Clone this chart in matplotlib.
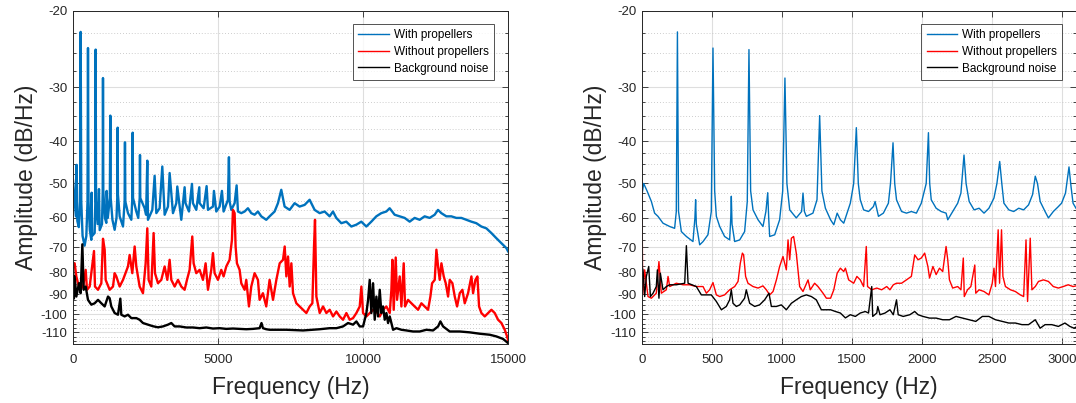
import numpy as np
import matplotlib
matplotlib.use("Agg")
import matplotlib.pyplot as plt
from matplotlib.ticker import FixedLocator, FixedFormatter

plt.rcParams['font.family'] = ['Liberation Sans', 'DejaVu Sans']

# ---- data: (frequency Hz, amplitude dB/Hz) ----
# left panel, 0-15000 Hz
left_with = [
    (0, -49.1), (30, -52), (60, -55), (100, -59.5), (126, -45.3), (150, -61), (200, -63),
    (245, -55), (264, -22.4), (285, -55), (330, -66), (400, -69.5), (460, -66), (500, -55),
    (517, -24.4), (535, -55), (580, -64), (632, -67.4), (643, -52.5), (660, -66), (747, -65),
    (770, -55), (781, -24.6), (795, -55), (850, -62), (896, -51.5), (920, -64), (1000, -62),
    (1025, -52), (1034, -28.6), (1045, -52), (1100, -60), (1149, -61.6), (1160, -52),
    (1200, -60), (1270, -54), (1287, -34.9), (1300, -54), (1360, -60.6), (1436, -63.9),
    (1500, -60), (1530, -53), (1540, -37.2), (1550, -53), (1609, -59.5), (1724, -62.8),
    (1780, -55), (1792, -40.2), (1805, -55), (1896, -58.5), (2011, -60.6), (2045, -54),
    (2057, -38.2), (2070, -54), (2183, -58), (2250, -60), (2300, -54), (2310, -43.0),
    (2320, -54), (2470, -57), (2520, -59), (2562, -44.3), (2585, -60.6), (2735, -57.5),
    (2815, -48.0), (2873, -58.5), (2987, -57), (3079, -45.7), (3160, -59), (3275, -56.5),
    (3332, -47.3), (3447, -58.5), (3562, -55.5), (3596, -50.8), (3734, -60.6), (3849, -51.0),
    (3880, -55.5), (3999, -58), (4102, -50.1), (4136, -55.5), (4251, -57.5), (4355, -51.0),
    (4366, -55.5), (4504, -57), (4607, -50.7), (4654, -57.5), (4826, -56.5), (4860, -52),
    (4941, -58), (5056, -56.5), (5136, -52), (5193, -58), (5343, -54.5), (5377, -43.5),
    (5400, -55), (5458, -57.5), (5573, -55.5), (5642, -50.5), (5688, -58), (5803, -58.5),
    (5918, -58), (6032, -57), (6147, -58.5), (6262, -59), (6377, -58), (6492, -59.5),
    (6664, -60.6), (6779, -59.5), (6952, -58), (7067, -55.5), (7182, -51.7), (7297, -56.5),
    (7470, -57.5), (7642, -55.5), (7814, -56.5), (7987, -56), (8159, -54.5), (8332, -57.5),
    (8504, -58.5), (8677, -58), (8849, -59.5), (8964, -58), (9079, -60), (9252, -61.7),
    (9424, -61.2), (9597, -62.8), (9769, -62.2), (9942, -61.2), (10114, -62.8), (10287, -61.2),
    (10459, -59.5), (10632, -58.5), (10804, -58), (10919, -57), (11091, -59), (11264, -59.5),
    (11436, -60), (11609, -61.2), (11781, -60), (11954, -60.6), (12126, -59.5), (12298, -60),
    (12471, -59), (12586, -57.5), (12701, -58.5), (12874, -59.5), (13046, -59.5),
    (13218, -60), (13391, -60), (13563, -60.6), (13736, -61.2), (13908, -61.7),
    (14081, -62.8), (14253, -63.4), (14426, -65), (14598, -66.8), (14771, -68.6),
    (14943, -70.4), (15000, -71.6),
]
left_without = [
    (0, -76.3), (57, -76.3), (115, -81.8), (230, -87.8), (345, -86.3), (437, -79),
    (483, -87.8), (575, -86.3), (724, -71.5), (758, -86.3), (862, -87.8), (977, -84.8),
    (1034, -67), (1092, -71), (1126, -83.3), (1264, -87.8), (1379, -86.3), (1436, -80.4),
    (1494, -81.8), (1609, -86.3), (1724, -83.3), (1896, -77.6), (1953, -73), (2045, -80.4),
    (2126, -69.8), (2183, -77.6), (2298, -86.3), (2413, -89.4), (2505, -76.3), (2562, -63.4),
    (2608, -83.3), (2700, -86.3), (2780, -65), (2827, -80.4), (2930, -84.8), (3045, -83.3),
    (3160, -77.6), (3252, -83.3), (3332, -74.9), (3390, -83.3), (3505, -86.3), (3620, -83.3),
    (3734, -86.3), (3849, -87.8), (3930, -83.3), (4021, -79), (4113, -66.2), (4159, -76.3),
    (4251, -80.4), (4366, -79), (4481, -83.3), (4573, -76.3), (4654, -87.8), (4768, -79),
    (4826, -72.3), (4883, -80.4), (4998, -83.3), (5113, -79), (5193, -81.8), (5285, -77.6),
    (5400, -74.9), (5481, -67.4), (5515, -57.5), (5573, -58.5), (5607, -69.8), (5653, -76.3),
    (5745, -79), (5803, -84.8), (5918, -87.8), (5975, -83.3), (6067, -95.9), (6147, -86.3),
    (6262, -80.4), (6377, -83.3), (6434, -92.6), (6549, -89.4), (6664, -95.9), (6779, -83.3),
    (6897, -92.6), (7012, -83.3), (7127, -76.3), (7242, -74.9), (7300, -69.8), (7357, -81.8),
    (7415, -73.6), (7472, -86.3), (7530, -76.3), (7587, -89.4), (7702, -94.3), (7817, -95.9),
    (7932, -97.6), (8047, -99.3), (8162, -95.9), (8254, -94.3), (8311, -69.8), (8345, -60.6),
    (8392, -91), (8507, -99.3), (8622, -95.9), (8737, -99.3), (8852, -97.6), (8967, -101.1),
    (9082, -98.5), (9197, -101.1), (9312, -102.9), (9427, -99.3), (9542, -102.9),
    (9657, -102), (9772, -99.3), (9887, -95.9), (9944, -86.3), (10002, -99.3),
    (10117, -101.1), (10232, -99.3), (10347, -97.6), (10462, -98.5), (10577, -101.1),
    (10692, -97.6), (10807, -95.9), (10922, -99.3), (10979, -87.8), (11013, -74.9),
    (11059, -97.6), (11128, -74), (11174, -92.6), (11266, -81.8), (11324, -95.9),
    (11404, -76.3), (11450, -95.9), (11554, -92.6), (11669, -94.3), (11784, -95.9),
    (11899, -97.6), (12014, -94.3), (12129, -95.9), (12244, -97.6), (12324, -91),
    (12382, -84.8), (12474, -83.3), (12531, -71), (12589, -77.6), (12646, -83.3),
    (12704, -76.3), (12784, -81.8), (12853, -84.8), (12934, -91), (12991, -83.3),
    (13083, -84.8), (13164, -91), (13244, -95.9), (13336, -89.4), (13428, -87.8),
    (13508, -94.3), (13623, -89.4), (13738, -81.8), (13796, -89.4), (13876, -83.3),
    (13945, -81.8), (14002, -95.9), (14083, -99.3), (14198, -101.1), (14313, -99.3),
    (14428, -97.6), (14543, -99.3), (14658, -102.9), (14773, -104.7), (14888, -108.5),
    (14968, -112.4), (15000, -114.4),
]
left_background = [
    (0, -76.3), (30, -92), (57, -81.8), (115, -91), (207, -84.8), (264, -89.4), (322, -69),
    (368, -87.8), (437, -86.3), (517, -92.6), (632, -95), (747, -94.3), (862, -92.6),
    (977, -94.3), (1092, -95.9), (1207, -91), (1264, -91.8), (1321, -95.9), (1436, -99.3),
    (1551, -100.2), (1632, -92), (1666, -100.2), (1781, -101.1), (1896, -100.2),
    (2011, -102), (2183, -102), (2298, -102.9), (2413, -104.7), (2585, -105.6),
    (2758, -106.5), (2930, -107.1), (3102, -106.6), (3275, -105.6), (3390, -104.7),
    (3505, -106.6), (3677, -106.6), (3907, -107.2), (4136, -107.2), (4366, -107.6),
    (4596, -107.2), (4826, -107.8), (5056, -107.6), (5285, -108), (5515, -107.8),
    (5745, -108), (5975, -108.2), (6205, -108), (6434, -107.6), (6500, -104.7),
    (6550, -107.6), (6664, -108.2), (6782, -108.5), (7357, -108.5), (7932, -108.9),
    (8507, -108.2), (8852, -107.6), (9082, -107.6), (9312, -106.6), (9484, -104.7),
    (9657, -105.6), (9772, -103.8), (9887, -106.6), (10002, -106.6), (10117, -99.3),
    (10175, -92.6), (10232, -83.3), (10289, -99.3), (10347, -84.8), (10404, -102.9),
    (10462, -91), (10519, -101.1), (10577, -87.8), (10634, -99.3), (10692, -95.9),
    (10749, -102.9), (10807, -99.3), (10864, -104.7), (10922, -101.1), (11037, -108.5),
    (11152, -107.6), (11324, -108.5), (11496, -108.9), (11726, -109.5), (11956, -109.5),
    (12186, -108.5), (12416, -108.9), (12589, -106.6), (12669, -103.8), (12761, -106.6),
    (12991, -109.5), (13336, -109.5), (13681, -110), (14026, -110.8), (14370, -111.4),
    (14600, -112.4), (14830, -113.9), (15000, -116.4),
]

# right panel, 0-3100 Hz
right_with = [
    (0, -53), (12, -50), (36, -52), (67, -55), (90, -58.5), (114, -59.5), (150, -61.7),
    (198, -62.8), (233, -63.4), (245, -58), (253, -22.4), (261, -58), (281, -64.5),
    (317, -66.2), (364, -68), (378, -60), (383, -54.5), (388, -62), (412, -69.2),
    (436, -68), (471, -65.6), (495, -58), (507, -24.4), (519, -52), (531, -59.5),
    (555, -62.8), (590, -66.2), (626, -67.4), (634, -60), (638, -53.5), (643, -62),
    (662, -68), (698, -67.4), (733, -64.5), (752, -55), (764, -24.6), (776, -52),
    (793, -57.5), (829, -60.6), (864, -62.8), (885, -58), (898, -52.5), (905, -60),
    (912, -66.2), (948, -65.6), (983, -60.6), (1005, -52), (1021, -28.6), (1035, -50),
    (1055, -57.5), (1102, -60), (1140, -58), (1150, -52.6), (1160, -58), (1174, -59.5),
    (1221, -58.5), (1250, -54.5), (1269, -34.9), (1285, -52), (1310, -57), (1347, -60.6),
    (1370, -62.2), (1394, -58.5), (1417, -60.6), (1441, -61.7), (1465, -58.5),
    (1488, -55.5), (1512, -50), (1531, -37.2), (1545, -50), (1559, -54.5), (1583, -57.5),
    (1618, -58), (1653, -56.5), (1665, -55), (1689, -59.5), (1724, -58.5), (1760, -55.5),
    (1775, -50), (1793, -40.3), (1805, -50), (1818, -54.5), (1854, -58), (1889, -58.5),
    (1924, -58), (1960, -58.5), (1995, -55.5), (2030, -50), (2046, -38.2), (2055, -50),
    (2066, -54.5), (2101, -57), (2137, -58), (2172, -58.5), (2184, -60.6), (2219, -58),
    (2255, -55.5), (2278, -52.6), (2300, -43.0), (2315, -50), (2337, -55), (2372, -57.5),
    (2408, -57), (2443, -58.5), (2478, -57), (2514, -54), (2535, -50), (2555, -44.5),
    (2570, -50), (2585, -55.5), (2620, -57.5), (2655, -58), (2691, -57), (2726, -57.5),
    (2761, -56), (2790, -53), (2809, -48.1), (2825, -50), (2844, -55), (2879, -58),
    (2903, -60), (2938, -58), (2974, -56.5), (2997, -55.5), (3025, -52.6), (3050, -45.8),
    (3065, -51), (3079, -55.5), (3100, -57),
]
right_without = [
    (0, -53), (5, -90), (19, -79), (43, -91), (67, -91.8), (102, -89.4), (121, -75.6),
    (138, -89.4), (174, -87.8), (186, -81.8), (198, -86.3), (245, -84.8), (293, -85.5),
    (340, -85.5), (388, -86.3), (436, -86.3), (460, -89.4), (483, -87.8), (507, -84.5),
    (531, -90.2), (555, -91), (590, -90.2), (626, -87.8), (662, -86.3), (686, -84),
    (702, -76.3), (717, -72.3), (726, -73), (740, -81.8), (757, -84.8), (793, -86.3),
    (829, -87), (864, -86), (888, -87.8), (912, -90.2), (936, -88.6), (960, -83.3),
    (983, -77.6), (1007, -73.6), (1031, -79), (1043, -67.4), (1055, -74.9), (1067, -66.8),
    (1083, -66.2), (1102, -72.3), (1126, -86.3), (1150, -88.6), (1186, -83.3),
    (1202, -87.8), (1233, -84.8), (1257, -86.3), (1293, -89.4), (1317, -91.8),
    (1347, -91.8), (1370, -87.8), (1394, -80.4), (1417, -78.3), (1441, -79.7),
    (1453, -78.3), (1476, -83.3), (1512, -84.8), (1535, -81.8), (1559, -83.3),
    (1583, -86.3), (1602, -69.8), (1611, -86.3), (1641, -87.8), (1677, -87), (1712, -87.8),
    (1748, -86.3), (1771, -87.8), (1795, -85.5), (1818, -84.8), (1854, -84.8),
    (1889, -83.3), (1924, -81.8), (1948, -73), (1972, -74.9), (1995, -74.2), (2019, -72.3),
    (2042, -77.6), (2054, -82.5), (2078, -77.6), (2101, -81), (2125, -78.3), (2148, -79.7),
    (2172, -69.8), (2184, -74.9), (2196, -83.3), (2219, -87), (2255, -86.3), (2278, -87.8),
    (2295, -74.2), (2302, -91), (2325, -87.8), (2349, -86.3), (2377, -77), (2384, -89.4),
    (2408, -87.8), (2443, -88.6), (2478, -90.2), (2502, -84.8), (2514, -78.3),
    (2525, -86.3), (2544, -63.9), (2554, -84.8), (2568, -63.9), (2578, -81.8),
    (2596, -86.3), (2632, -87.8), (2667, -88.6), (2702, -90.2), (2726, -91), (2743, -67.4),
    (2754, -93.4), (2773, -66.8), (2785, -87.8), (2809, -86.3), (2832, -84), (2868, -83.3),
    (2903, -84), (2938, -86.3), (2974, -87), (3009, -86.3), (3044, -85.5), (3079, -86.3),
    (3100, -86),
]
right_background = [
    (0, -78), (7, -79), (19, -91), (31, -81.8), (48, -77.6), (60, -91), (79, -89.4),
    (102, -86.3), (110, -79), (121, -91.8), (131, -80.4), (150, -87.8), (174, -86.3),
    (198, -85.5), (245, -85.5), (305, -84.8), (317, -69.5), (329, -84.8), (388, -86.3),
    (424, -90.2), (460, -90.2), (495, -90.2), (531, -93.4), (567, -97.6), (602, -95.9),
    (626, -92.6), (638, -87.8), (650, -94.3), (674, -95.9), (698, -95.1), (733, -91.8),
    (745, -87.8), (769, -94.3), (805, -95.9), (840, -95.1), (876, -92.6), (907, -89.4),
    (924, -95.9), (960, -95.9), (995, -95.1), (1031, -97.6), (1067, -94.3), (1102, -92.6),
    (1138, -91), (1174, -90.2), (1210, -91), (1245, -92.6), (1281, -97.6), (1317, -97.6),
    (1347, -97.6), (1382, -98.5), (1417, -99.3), (1453, -101.9), (1488, -100.2),
    (1524, -101.1), (1559, -99.3), (1595, -98.5), (1618, -99.3), (1641, -86.3),
    (1648, -101.1), (1677, -99.3), (1684, -95.9), (1700, -100.2), (1736, -99.3),
    (1771, -97.6), (1795, -100.2), (1818, -92.6), (1830, -100.2), (1866, -101.1),
    (1913, -100.2), (1948, -98.5), (1972, -100.2), (2007, -101.1), (2054, -102),
    (2101, -102), (2148, -102.9), (2196, -102.9), (2243, -101.1), (2290, -102),
    (2337, -102.9), (2384, -103.8), (2431, -101.1), (2478, -101.1), (2525, -102.9),
    (2573, -103.8), (2620, -104.7), (2667, -104.7), (2714, -105.6), (2761, -105.6),
    (2809, -102.9), (2844, -107.6), (2879, -105.6), (2927, -105.6), (2974, -106.6),
    (3021, -104.7), (3056, -106.6), (3086, -107.6), (3100, -107),
]

series_names = ['With propellers', 'Without propellers', 'Background noise']
series_colors = ['#0072BD', '#FF0000', '#000000']
y_ticks = [-20, -30, -40, -50, -60, -70, -80, -90, -100, -110]
left_xticks = [0, 5000, 10000, 15000]
right_xticks = [0, 500, 1000, 1500, 2000, 2500, 3000]


# amplitude axis is logarithmic in |dB| (as in the original figure)
def fwd(y):
    return -np.log10(np.clip(-np.asarray(y, dtype=float), 1e-6, None))


def inv(t):
    return -10.0 ** (-np.asarray(t, dtype=float))


fig = plt.figure(figsize=(10.76, 4.03), dpi=100)
ax1 = fig.add_axes([73 / 1076, 59 / 403, 435 / 1076, 333.5 / 403])
ax2 = fig.add_axes([642 / 1076, 59 / 403, 434 / 1076, 333.5 / 403])

panels = [
    (ax1, [left_with, left_without, left_background], (0, 15000), left_xticks, 1.7),
    (ax2, [right_with, right_without, right_background], (0, 3100), right_xticks, 1.0),
]

minor = [-v for v in np.arange(22.5, 117.6, 2.5) if v % 10 != 0]
txt = '#262626'

for ax, data, xlim, xticks, lw in panels:
    for d, name, col in zip(data, series_names, series_colors):
        f, a = zip(*d)
        ax.plot(f, a, color=col, lw=lw, label=name)
    ax.set_yscale('function', functions=(fwd, inv))
    ax.set_ylim(-117, -20)
    ax.set_xlim(*xlim)
    ax.yaxis.set_major_locator(FixedLocator(y_ticks))
    ax.yaxis.set_major_formatter(FixedFormatter([str(v) for v in y_ticks]))
    ax.yaxis.set_minor_locator(FixedLocator(minor))
    ax.yaxis.set_minor_formatter(FixedFormatter([''] * len(minor)))
    ax.set_xticks(xticks)
    ax.set_xticklabels([str(v) for v in xticks])
    ax.set_axisbelow(True)
    ax.grid(True, which='major', color='#dedede', lw=0.8, ls='-')
    ax.grid(True, which='minor', axis='y', color='#bdbdbd', lw=0.6, ls=(0, (1, 2.5)))
    ax.tick_params(which='both', direction='in', top=True, right=True,
                   colors=txt, labelsize=9.5, width=0.6)
    ax.tick_params(which='major', length=4)
    ax.tick_params(which='minor', length=2)
    ax.tick_params(axis='x', pad=7.5)
    ax.tick_params(axis='y', pad=4)
    for s in ax.spines.values():
        s.set_color(txt)
        s.set_linewidth(0.7)
    ax.set_xlabel('Frequency (Hz)', fontsize=16.5, color=txt)
    ax.set_ylabel('Amplitude (dB/Hz)', fontsize=16.5, color=txt)
    ax.xaxis.set_label_coords(0.5, -0.129)
    ax.xaxis.label.set_va('center')
    ax.yaxis.set_label_coords(-0.108, 0.5)
    ax.yaxis.label.set_va('center')
    leg = ax.legend(loc='upper right', bbox_to_anchor=(0.968, 0.96), borderaxespad=0,
                    fontsize=8.5, frameon=True, fancybox=False, handlelength=2.6,
                    handletextpad=0.4, borderpad=0.45, labelspacing=0.4)
    leg.get_frame().set_edgecolor(txt)
    leg.get_frame().set_linewidth(0.7)
    for line in leg.get_lines():
        line.set_linewidth(1.0)

fig.savefig('out.png', dpi=100)
